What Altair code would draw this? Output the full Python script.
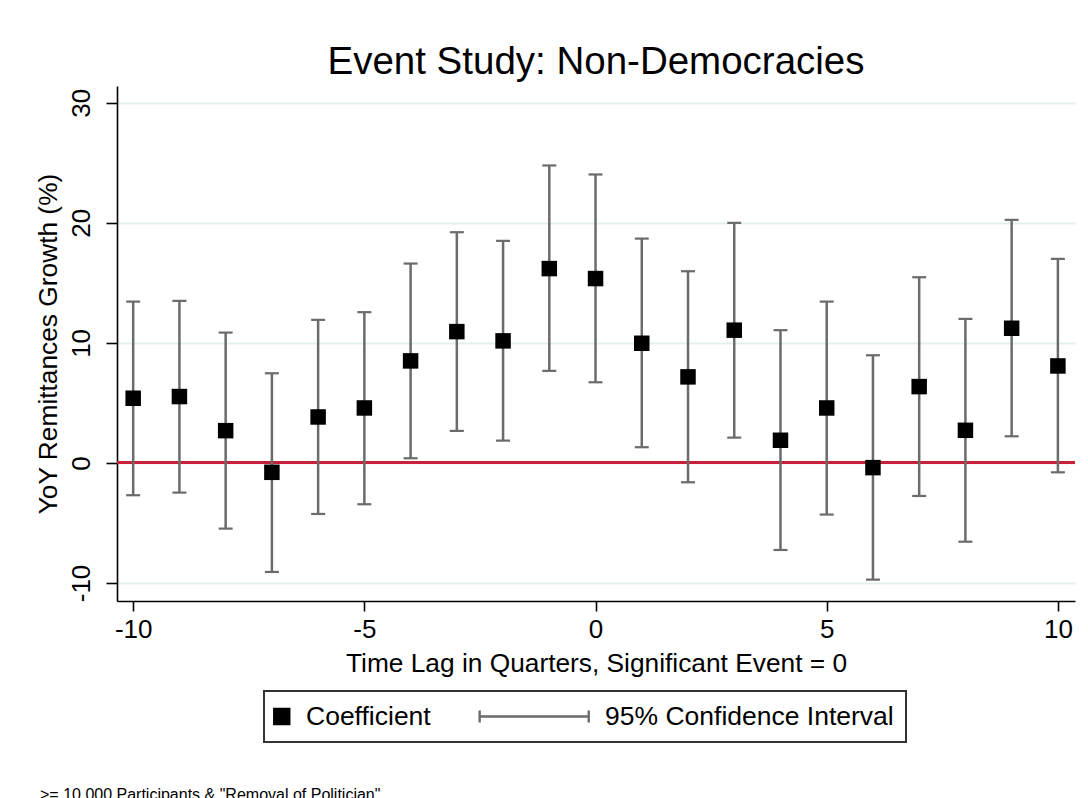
import altair as alt
import pandas as pd

# ---- data ----
lags = [-10, -9, -8, -7, -6, -5, -4, -3, -2, -1, 0, 1, 2, 3, 4, 5, 6, 7, 8, 9, 10]
coef = [5.39, 5.53, 2.69, -0.78, 3.83, 4.58, 8.50, 10.94, 10.17, 16.19, 15.36,
        9.97, 7.17, 11.06, 1.89, 4.58, -0.39, 6.36, 2.72, 11.22, 8.08]
ci_low = [-2.69, -2.47, -5.47, -9.08, -4.25, -3.44, 0.39, 2.67, 1.86, 7.67, 6.72,
          1.31, -1.61, 2.11, -7.25, -4.30, -9.72, -2.75, -6.56, 2.22, -0.78]
ci_high = [13.44, 13.50, 10.86, 7.47, 11.92, 12.56, 16.61, 19.22, 18.50, 24.78, 24.03,
           18.69, 15.97, 20.00, 11.06, 13.44, 8.97, 15.47, 12.00, 20.25, 17.00]
x_ticks = [-10, -5, 0, 5, 10]
y_ticks = [-10, 0, 10, 20, 30]
series = ["Coefficient", "95% Confidence Interval"]
title_text = "Event Study: Non-Democracies"
x_title = "Time Lag in Quarters, Significant Event = 0"
y_title = "YoY Remittances Growth (%)"
note = '>= 10,000 Participants & "Removal of Politician"'

df = pd.DataFrame({"lag": lags, "coef": coef, "lo": ci_low, "hi": ci_high})
legend_df = pd.DataFrame({"series": series})
note_df = pd.DataFrame({"note": [note]})

FONT = "Liberation Sans"
BAR = "#6b6b6b"

xs = alt.Scale(domain=[-10.35, 10.37], nice=False, zero=False)
ys = alt.Scale(domain=[-11.5, 31.4], nice=False, zero=False)

x_axis = alt.Axis(values=x_ticks, title=x_title, grid=False,
                  labelExpr="'' + datum.value",
                  labelFontSize=26, titleFontSize=26.3, labelPadding=5, titlePadding=8,
                  tickSize=10)
y_axis = alt.Axis(values=y_ticks, title=y_title, grid=True, gridColor="#e4eef0",
                  gridWidth=2, labelExpr="'' + datum.value",
                  labelFontSize=26, titleFontSize=26.3,
                  labelAngle=270, labelAlign="center", labelBaseline="bottom",
                  labelPadding=12, titlePadding=6, tickSize=11)

X = alt.X("lag:Q", scale=xs, axis=x_axis)

zero_rule = alt.Chart(df).mark_rule(color="#c8223a", strokeWidth=2.2).encode(
    x=alt.value(0), x2=alt.value(958),
    y=alt.YDatum(0, scale=ys, axis=y_axis),
)

bars = alt.Chart(df).mark_rule(color=BAR, strokeWidth=2.5).encode(
    x=X,
    y=alt.Y("lo:Q", scale=ys, axis=y_axis),
    y2="hi:Q",
)

caps_lo = alt.Chart(df).mark_tick(color=BAR, orient="horizontal", size=14,
                                   thickness=2.2, opacity=1).encode(
    x=X, y=alt.Y("lo:Q", scale=ys, axis=y_axis))
caps_hi = alt.Chart(df).mark_tick(color=BAR, orient="horizontal", size=14,
                                   thickness=2.2, opacity=1).encode(
    x=X, y=alt.Y("hi:Q", scale=ys, axis=y_axis))

points = alt.Chart(df).mark_point(shape="square", filled=True, size=240,
                                  color="black", opacity=1).encode(
    x=X, y=alt.Y("coef:Q", scale=ys, axis=y_axis))

# legend glyphs (unit = 12 px, centred 13.2 px into each entry)
sq_path = "M-1.27,-0.62L-0.02,-0.62L-0.02,0.62L-1.27,0.62Z"
eb_path = "M-9.07,0L0.02,0M-9.07,-0.5L-9.07,0.5M0.02,-0.5L0.02,0.5"
leg = alt.Legend(title=None, orient="none", legendX=147, legendY=605,
                 direction="horizontal", symbolSize=576, symbolStrokeWidth=2.4,
                 labelFontSize=26.5, labelFont=FONT, labelColor="black",
                 labelOffset=3, labelLimit=400, columnPadding=43, padding=12)

legend_layer = alt.Chart(legend_df).mark_point(filled=True, opacity=1, clip=True,
                                               strokeWidth=2.4).encode(
    x=alt.value(-2000), y=alt.value(-2000),
    shape=alt.Shape("series:N", scale=alt.Scale(domain=series, range=[sq_path, eb_path]),
                    legend=leg),
    fill=alt.Fill("series:N", scale=alt.Scale(domain=series, range=["black", "transparent"]),
                  legend=leg),
    stroke=alt.Stroke("series:N", scale=alt.Scale(domain=series, range=["black", BAR]),
                      legend=leg),
)

note_layer = alt.Chart(note_df).mark_text(align="left", baseline="alphabetic",
                                          fontSize=16, font=FONT, color="black").encode(
    x=alt.value(-77), y=alt.value(714), text="note:N")

chart = alt.layer(zero_rule, bars, caps_lo, caps_hi, points, legend_layer, note_layer).properties(
    width=958, height=515,
    title=alt.TitleParams(title_text, fontSize=38.5, font=FONT, fontWeight="normal",
                          color="black", anchor="middle", offset=4),
    autosize=alt.AutoSizeParams(type="none"),
    padding={"left": 117, "top": 86, "right": 13, "bottom": 197},
).configure_axis(
    labelFont=FONT, titleFont=FONT, labelColor="black", titleColor="black",
    titleFontWeight="normal", domainColor="black", domainWidth=1.6,
    tickColor="black", tickWidth=1.6,
).configure_view(stroke="transparent").configure_legend(
    strokeColor="#333333", strokeWidth=2,
)

chart.save("out.html", embed_options={"renderer": "svg", "actions": False})
